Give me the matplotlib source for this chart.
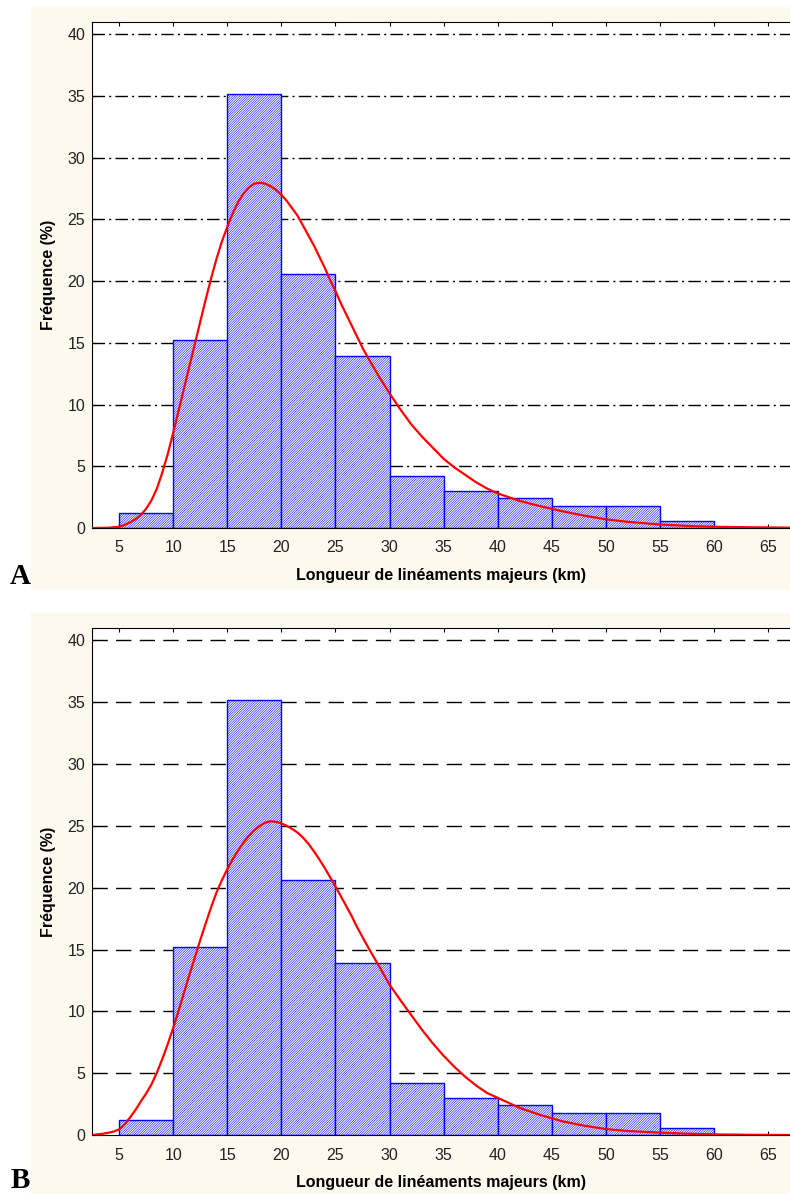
import matplotlib.pyplot as plt
import matplotlib.patches as mpatches
import numpy as np

plt.rcParams['font.family'] = ['Liberation Sans', 'DejaVu Sans']
plt.rcParams['hatch.linewidth'] = 0.4

# histogram (same for both panels)
bin_left = [5, 10, 15, 20, 25, 30, 35, 40, 45, 50, 55]
freq = [1.2, 15.2, 35.2, 20.6, 13.9, 4.2, 3.0, 2.4, 1.8, 1.8, 0.6]

# fitted curve A
curve_a_x = [2.5, 4, 5, 5.5, 6, 6.5, 7, 7.5, 8, 8.5, 9, 9.5, 10, 10.5, 11, 11.5,
             12, 12.5, 13, 13.5, 14, 14.5, 15, 15.5, 16, 16.5, 17, 17.5, 18,
             18.5, 19, 19.5, 20, 20.5, 21, 21.5, 22, 22.5, 23, 23.5, 24, 24.5,
             25, 25.5, 26, 26.5, 27, 27.5, 28, 29, 30, 31, 32, 33, 34, 35, 36,
             37, 38, 39, 40, 42, 44, 46, 48, 50, 52, 55, 58, 60, 63, 67]
curve_a_y = [0.0, 0.02, 0.1, 0.25, 0.45, 0.7, 1.05, 1.55, 2.25, 3.2, 4.5, 6.0,
             7.7, 9.5, 11.3, 13.1, 14.9, 16.7, 18.5, 20.2, 21.8, 23.2, 24.4,
             25.5, 26.4, 27.1, 27.6, 27.9, 27.97, 27.9, 27.7, 27.4, 27.0, 26.5,
             25.9, 25.3, 24.5, 23.7, 22.9, 22.0, 21.1, 20.1, 19.2, 18.2, 17.3,
             16.4, 15.5, 14.6, 13.8, 12.3, 10.9, 9.6, 8.4, 7.4, 6.5, 5.6, 4.9,
             4.3, 3.7, 3.2, 2.8, 2.2, 1.75, 1.35, 1.0, 0.7, 0.5, 0.28, 0.15,
             0.1, 0.06, 0.03]

# fitted curve B
curve_b_x = [2.5, 3, 3.5, 4, 4.5, 5, 5.5, 6, 6.5, 7, 7.5, 8, 8.5, 9, 9.5, 10,
             10.5, 11, 11.5, 12, 12.5, 13, 13.5, 14, 14.5, 15, 15.5, 16, 16.5,
             17, 17.5, 18, 18.5, 19, 19.5, 20, 20.5, 21, 21.5, 22, 22.5, 23,
             23.5, 24, 24.5, 25, 25.5, 26, 26.5, 27, 27.5, 28, 29, 30, 31, 32,
             33, 34, 35, 36, 37, 38, 39, 40, 42, 44, 45, 46, 48, 50, 52, 55, 58,
             60, 63, 67]
curve_b_y = [0.0, 0.05, 0.1, 0.18, 0.28, 0.45, 0.85, 1.4, 2.0, 2.7, 3.35, 4.1,
             5.05, 6.15, 7.35, 8.65, 10.05, 11.5, 12.95, 14.35, 15.75, 17.1,
             18.4, 19.6, 20.6, 21.5, 22.3, 23.0, 23.65, 24.2, 24.65, 25.0,
             25.25, 25.37, 25.33, 25.2, 25.0, 24.75, 24.45, 24.05, 23.55, 22.95,
             22.3, 21.6, 20.85, 20.1, 19.3, 18.5, 17.7, 16.8, 16.0, 15.2, 13.7,
             12.15, 10.9, 9.7, 8.5, 7.4, 6.4, 5.5, 4.7, 4.0, 3.4, 3.0, 2.2, 1.6,
             1.35, 1.1, 0.75, 0.48, 0.32, 0.19, 0.09, 0.05, 0.02, 0.0]

xticks = [5, 10, 15, 20, 25, 30, 35, 40, 45, 50, 55, 60, 65]
yticks = [0, 5, 10, 15, 20, 25, 30, 35, 40]

W, H = 790, 1194
fig = plt.figure(figsize=(W / 100, H / 100), dpi=100)
cream = '#fdf9ef'

# cream panels behind the axes
fig.patches.append(mpatches.Rectangle((31 / W, 1 - 588 / H), 1 - 31 / W, (588 - 7) / H,
                                      transform=fig.transFigure, color=cream, zorder=-5))
fig.patches.append(mpatches.Rectangle((31 / W, 0), 1 - 31 / W, 1 - 613 / H,
                                      transform=fig.transFigure, color=cream, zorder=-5))

panels = [
    (22, 528, curve_a_x, curve_a_y, (0, (9, 3, 1.5, 3)), 'A', 577),
    (628, 1135, curve_b_x, curve_b_y, (0, (11, 6)), 'B', 1181),
]

for top, bot, cx, cy, ls, letter, ly in panels:
    ax = fig.add_axes([92 / W, 1 - bot / H, 1 - 92 / W, (bot - top) / H])
    ax.set_facecolor('white')
    for v in yticks[1:]:
        ax.axhline(v, color='black', lw=1, linestyle=ls, zorder=1)
    ax.bar(bin_left, freq, width=5, align='edge', facecolor='white',
           edgecolor='blue', hatch='/' * 14, linewidth=1, zorder=2)
    ax.plot(cx, cy, color='red', lw=1.6, zorder=3)
    ax.set_xlim(2.5, 67)
    ax.set_ylim(0, 41)
    ax.set_xticks(xticks)
    ax.set_yticks(yticks)
    ax.tick_params(direction='in', length=3, labelsize=11.5, colors='black',
                   labelcolor='#222222', top=True, pad=9)
    ax.tick_params(axis='y', pad=5)
    ax.spines['right'].set_visible(False)
    ax.set_xlabel('Longueur de linéaments majeurs (km)', fontsize=11.5,
                  fontweight='bold', labelpad=9)
    ax.set_ylabel('Fréquence (%)', fontsize=11.5, fontweight='bold', labelpad=8)
    fig.text(20 / W, 1 - ly / H, letter, fontsize=21, fontweight='bold',
             family='Liberation Serif', ha='center', va='center')

fig.savefig('out.png', dpi=100)
